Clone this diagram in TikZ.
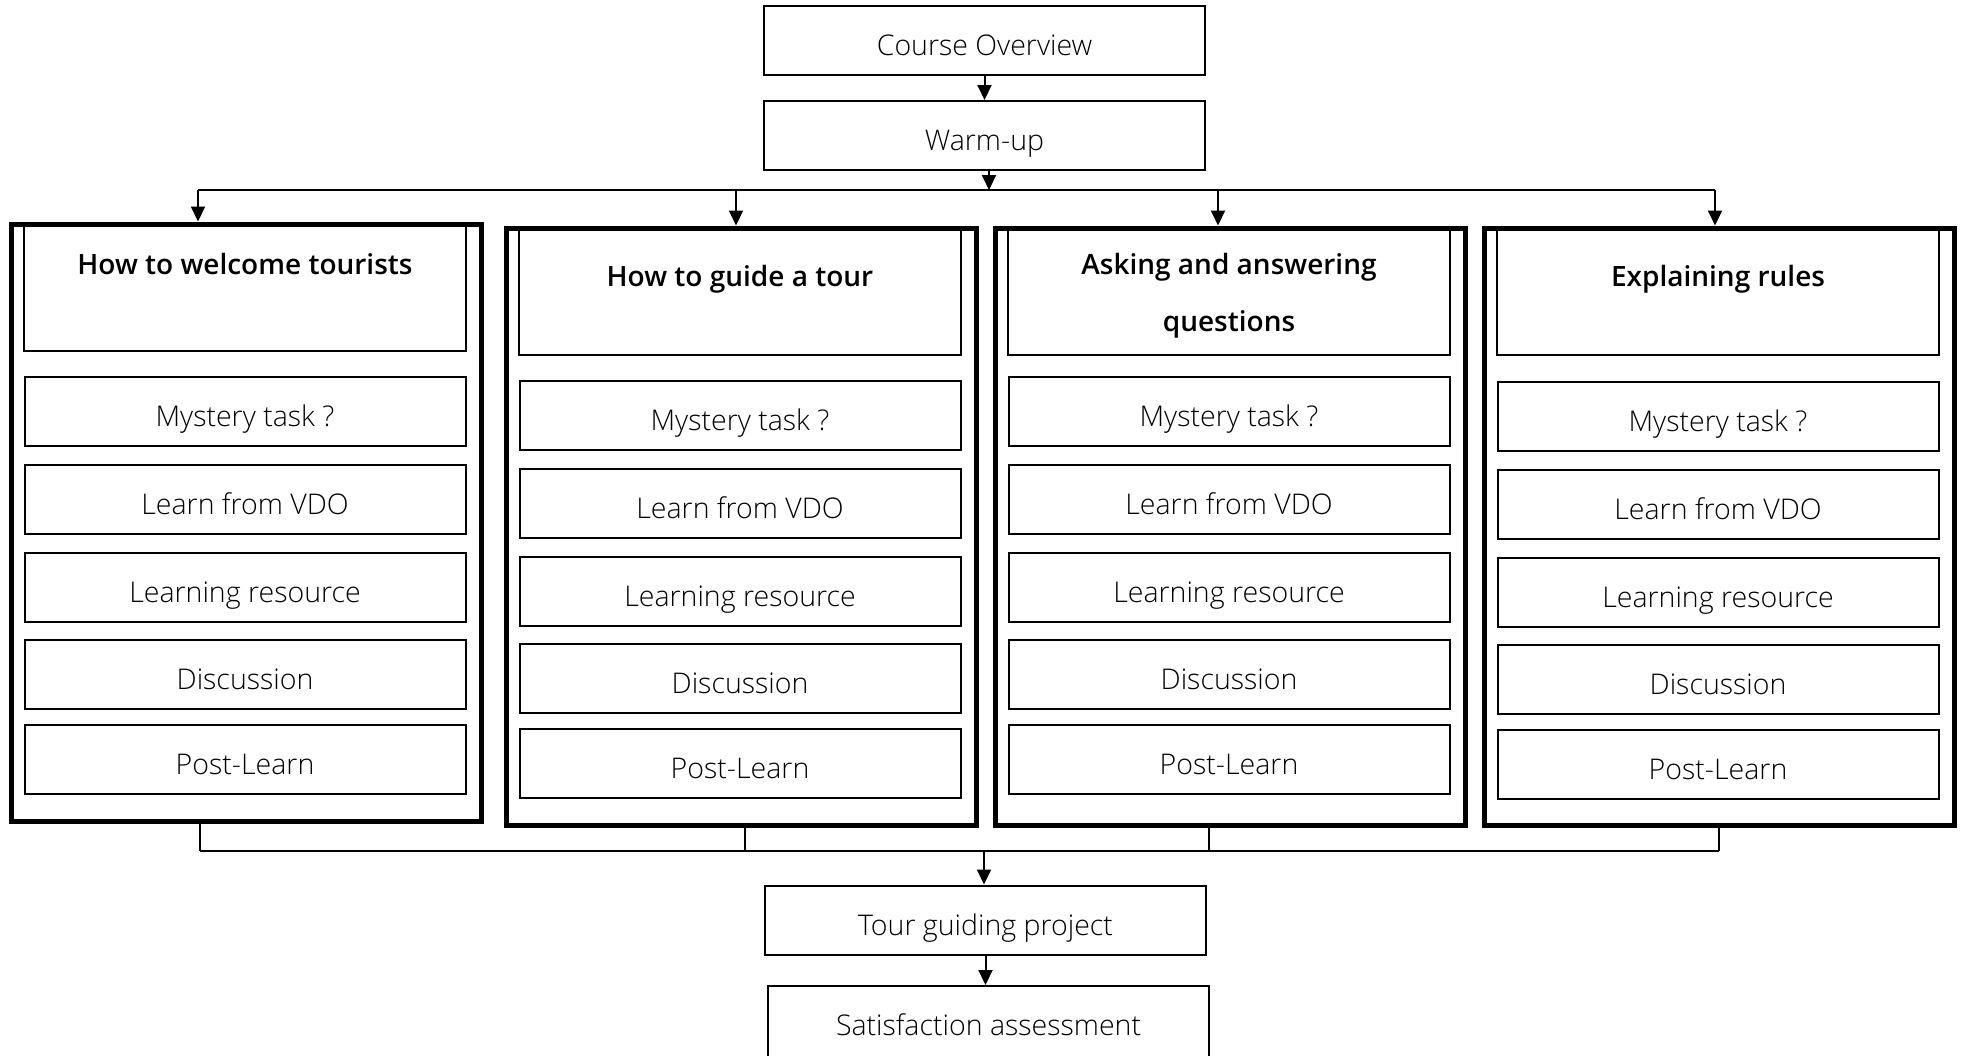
\documentclass[tikz,border=0pt]{standalone}
\usepackage{fontspec}
\setmainfont{Open Sans}[UprightFont=* Light, BoldFont=* Semibold]
\usetikzlibrary{arrows.meta}

\begin{document}
\begin{tikzpicture}[x=1pt,y=-1pt,
  box/.style={draw,line width=2pt,minimum width=441pt,minimum height=69pt,inner sep=0pt,
    text height=33pt,text depth=3pt,font=\fontsize{28.5}{34}\selectfont},
  outer/.style={draw,line width=5pt,minimum width=470pt,minimum height=597pt,inner sep=0pt},
  head/.style={draw,line width=2pt,minimum width=442pt,minimum height=127pt,inner sep=0pt},
  headtext/.style={align=center,inner sep=0pt,font=\fontsize{28}{57}\selectfont\bfseries},
  arr/.style={-{Triangle[length=15pt,width=14pt]},line width=2pt},
  conn/.style={line width=2pt}]

\useasboundingbox (0,0) rectangle (1961,1055);

\node[box] (co) at (984.5,40.5) {Course Overview};
\node[box] (wu) at (984.5,135.5) {Warm-up};
\draw[arr] (co) -- (wu);

\coordinate (hub) at (989,190);
\coordinate (tl) at (198,190);
\coordinate (tr) at (1715,190);
\draw[arr] (wu.south -| hub) -- (hub);
\draw[conn] (tl) -- (tr);

\foreach \c/\cx/\ct/\ty/\ax/\bx/\sh/\title in {
  1/246/224/264/198/200/0/{How to welcome tourists},
  2/741/228/279/736/745/0/{How to guide a tour},
  3/1230/228/295.5/1218/1209/-4/{Asking and answering\\questions},
  4/1719/228/279/1715/1719/1/{Explaining rules}}
{
  \node[outer] (o\c) at (\cx,\ct+298.5) {};
  \node[head] (h\c) at (\cx-1,\ct+63.5) {};
  \node[headtext] (t\c) at (\cx-1,\ty) {\title};
  \foreach \r/\dy/\txt in {1/187/{Mystery task ?},2/275/{Learn from VDO},
    3/363/{Learning resource},4/450/{Discussion},5/535/{Post-Learn}}
    \node[box] (r\c\r) at (\cx-1,\ct+\dy+\sh) {\txt};
  \coordinate (a\c) at (\ax,190);
  \draw[arr] (a\c) -- (a\c |- o\c.north);
  \coordinate (b\c) at (\bx,851);
  \draw[conn] (b\c |- o\c.south) -- (b\c);
}

\draw[conn] (b1) -- (b4);

\node[box] (tg) at (985.5,920) {Tour guiding project};
\node[box,minimum height=78pt,text height=23pt] (sa) at (988.5,1025) {Satisfaction assessment};

\coordinate (hub2) at (984,851);
\draw[arr] (hub2) -- (hub2 |- tg.north);
\draw[arr] (tg.south) -- (tg.south |- sa.north);

\end{tikzpicture}
\end{document}
